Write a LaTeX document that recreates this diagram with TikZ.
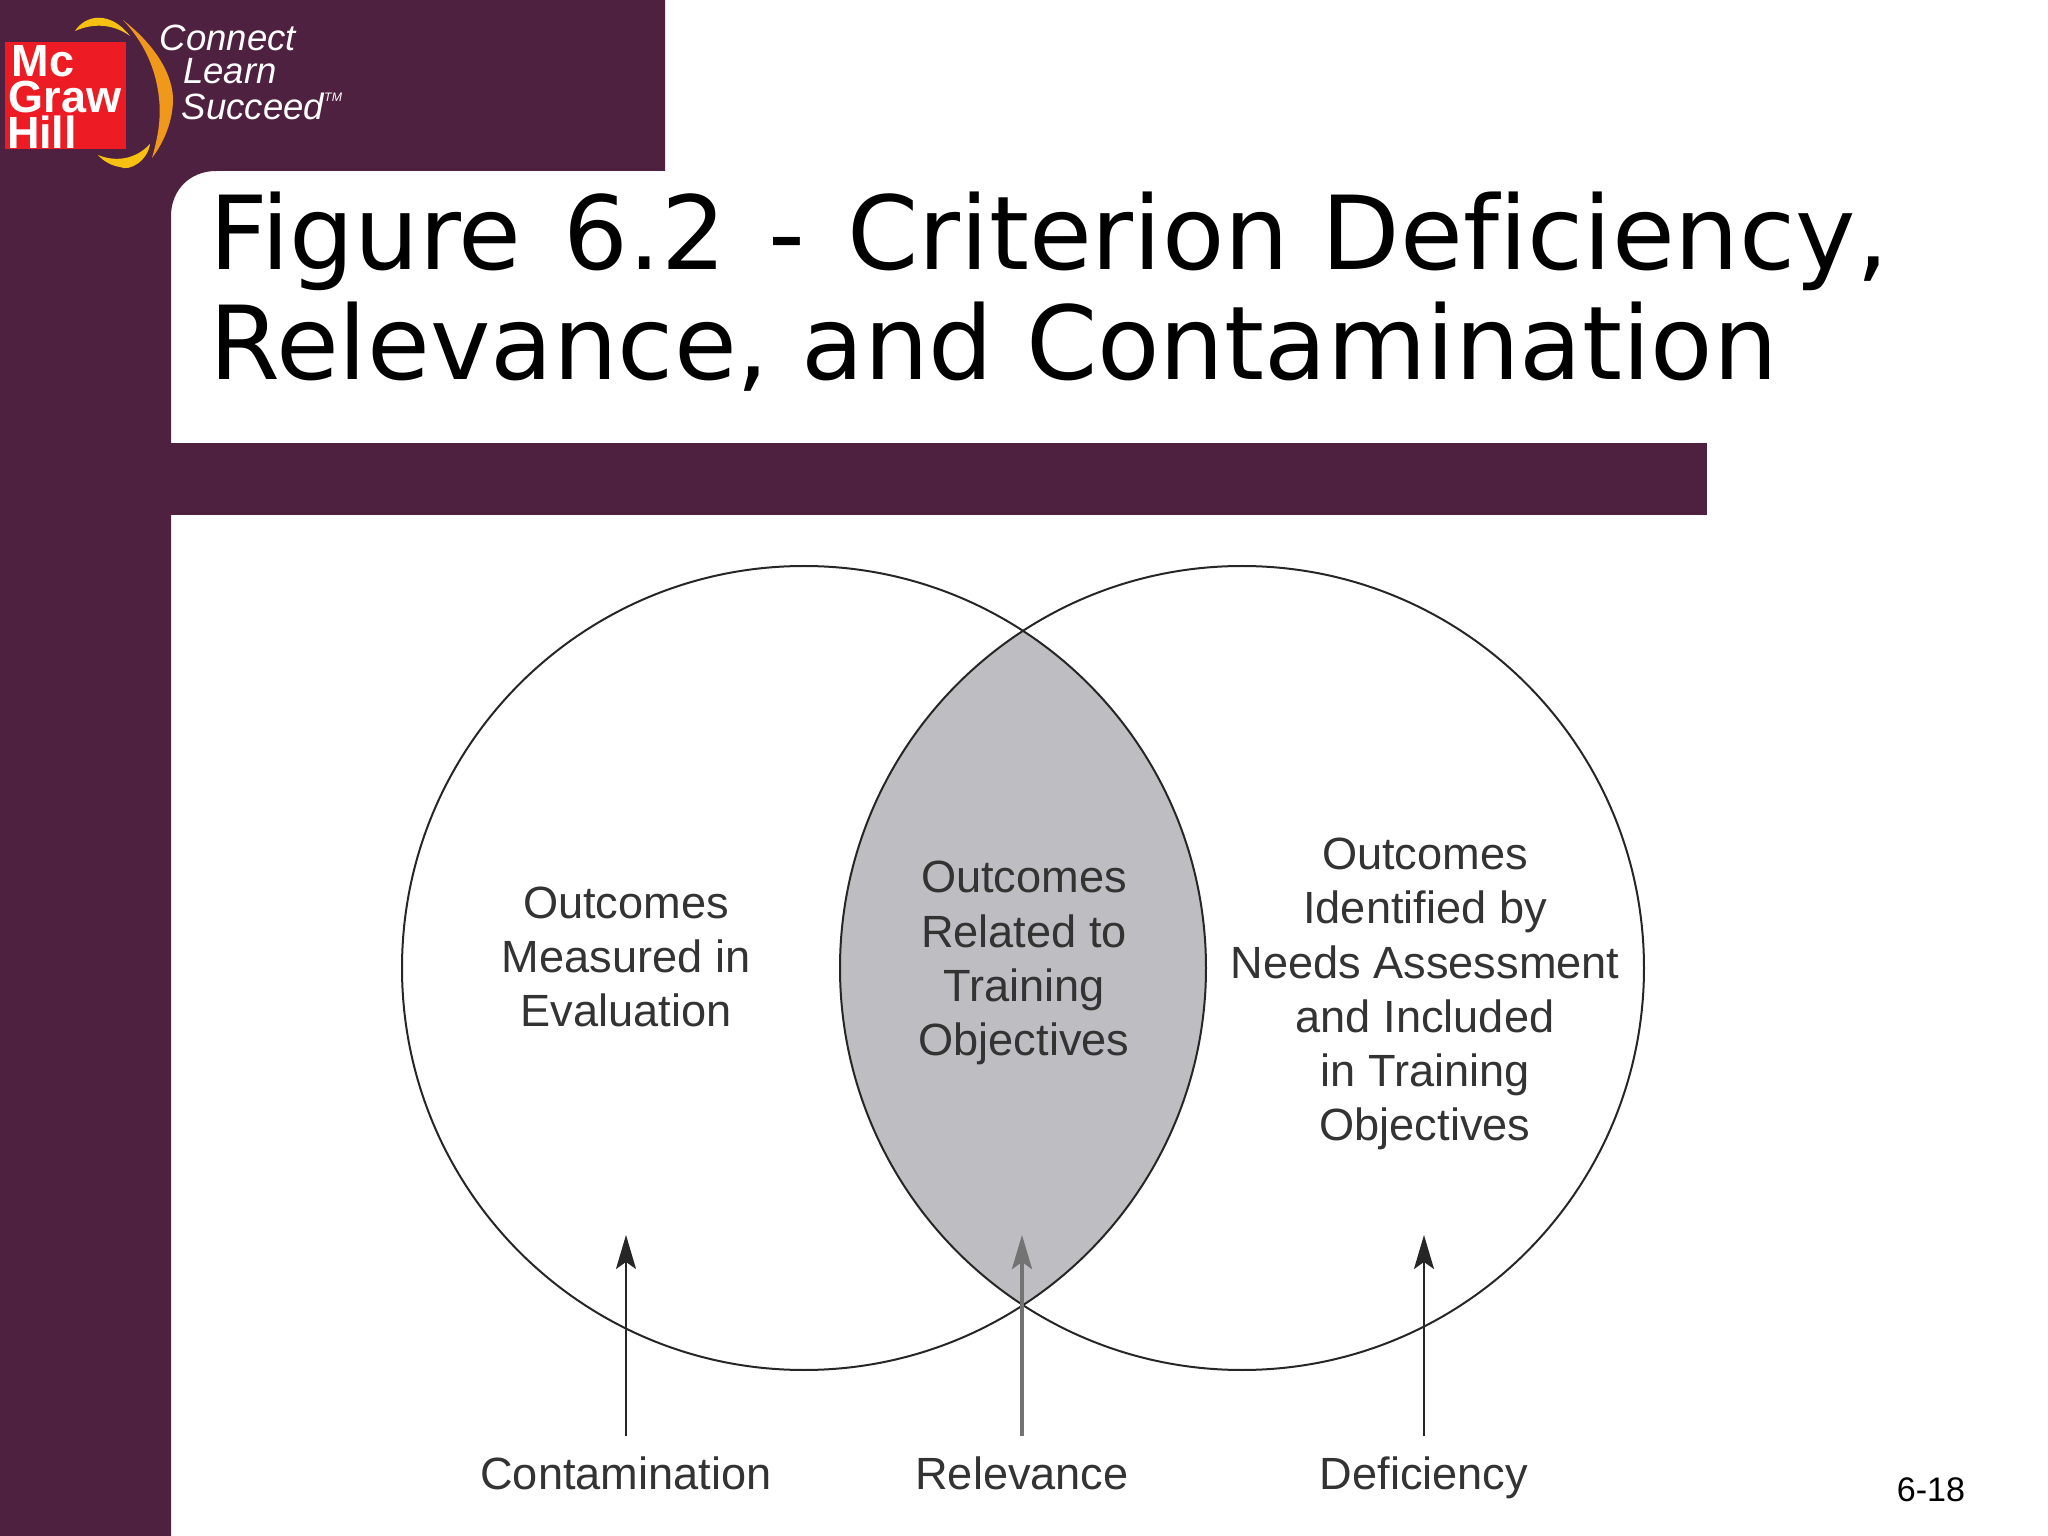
\documentclass[tikz,border=0pt]{standalone}
\usepackage{fontspec}
\setmainfont{Liberation Sans}
\newfontfamily\titlefont[Ligatures=NoCommon]{DejaVu Sans}
\usetikzlibrary{arrows.meta}
\definecolor{maroon}{HTML}{4F2140}
\definecolor{lensgray}{HTML}{BDBDC2}
\definecolor{logored}{HTML}{ED1C24}
\definecolor{swoosh}{HTML}{F0981C}
\definecolor{inkgray}{HTML}{333333}
\tikzset{
  venn/.style={draw=black!85,line width=0.2mm},
  vtext/.style={align=center,text=inkgray,font=\fontsize{12.85}{15.4}\selectfont},
  vlabel/.style={anchor=center,text=inkgray,font=\fontsize{12.85}{15.4}\selectfont,text height=9.4pt,text depth=0pt,minimum height=0.72cm,inner sep=0pt},
  varrow/.style={draw=black!85,line width=0.2mm,-{Stealth[length=0.34cm,width=0.2cm,inset=0.07cm]}},
  logotext/.style={anchor=center,text=white,inner sep=0pt,font=\fontsize{10.4}{10}\selectfont\itshape},
  mhtext/.style={anchor=center,text=white,inner sep=0pt,font=\fontsize{12.8}{12.5}\selectfont\bfseries}
}

\newcommand{\logoMH}[1]{
\begin{scope}[shift={(#1)}]
\fill [logored] (0.05,0.42) rectangle (1.26,1.49);
\node [mhtext] (mc) at (0.43,0.615) {Mc};
\node [mhtext] (graw) at (0.65,0.97) {Graw};
\node [mhtext] (hill) at (0.42,1.32) {Hill};
\fill [swoosh] (1.23,0.20) .. controls (1.55,0.45) and (1.74,0.75) .. (1.73,1.02) .. controls (1.72,1.25) and (1.62,1.45) .. (1.52,1.58) .. controls (1.60,1.30) and (1.62,1.10) .. (1.57,0.85) .. controls (1.52,0.60) and (1.40,0.38) .. (1.23,0.20) -- cycle;
\fill [swoosh!60!yellow] (0.75,0.31) .. controls (0.85,0.15) and (1.10,0.10) .. (1.30,0.36) .. controls (1.15,0.25) and (0.95,0.22) .. (0.75,0.31) -- cycle;
\fill [swoosh!60!yellow] (0.98,1.55) .. controls (1.15,1.62) and (1.35,1.60) .. (1.50,1.44) .. controls (1.48,1.60) and (1.30,1.72) .. (1.20,1.67) .. controls (1.12,1.66) and (1.03,1.61) .. (0.98,1.55) -- cycle;
\node [logotext] (connect) at (2.28,0.38) {Connect};
\node [logotext] (learn) at (2.30,0.71) {Learn};
\node [logotext] (succeed) at (2.62,1.06) {Succeed\raisebox{0.9ex}{\fontsize{3.5}{3.5}\selectfont TM}};
\end{scope}
}

\begin{document}
\begin{tikzpicture}[y=-1cm]
\useasboundingbox (0,0) rectangle (20.48,15.36);

\fill [maroon] (0,0) -- (6.65,0) -- (6.65,1.71) -- (2.16,1.71) .. controls (1.90,1.71) and (1.71,1.90) .. (1.71,2.16) -- (1.71,15.36) -- (0,15.36) -- cycle;
\fill [maroon] (1.71,4.43) rectangle (17.07,5.15);
\logoMH{0,0};

\node [anchor=base west, inner sep=0pt, align=left, font=\fontsize{29.05}{31.3}\selectfont\titlefont] (title) at (2.09,3.80) {Figure\hspace{2.8pt} 6.2\hspace{2.8pt} -\hspace{2.8pt} Criterion Deficiency,\\Relevance, and Contamination};

\path (8.04,9.68) coordinate (Q1);
\path (12.42,9.68) coordinate (Q2);

\begin{scope}
\clip (Q1) circle (4.02);
\fill [lensgray] (Q2) circle (4.02);
\end{scope}
\draw [venn] (Q1) circle (4.02);
\draw [venn] (Q2) circle (4.02);

\node [vtext] (measured) at (6.26,9.57) {Outcomes\\Measured in\\Evaluation};
\node [vtext] (related) at (10.24,9.63) {Outcomes\\Related to\\Training\\Objectives};
\node [vtext] (identified) at (14.25,9.94) {Outcomes\\Identified by\\Needs Assessment\\and Included\\in Training\\Objectives};

\node [vlabel] (contamination) at (6.26,14.73) {Contamination};
\node [vlabel] (relevance) at (10.22,14.73) {Relevance};
\node [vlabel] (deficiency) at (14.24,14.73) {Deficiency};

\path (6.26,12.35) coordinate (A1);
\path (10.22,12.35) coordinate (A2);
\path (14.24,12.35) coordinate (A3);

\draw [varrow] (contamination.north) -- (A1);
\draw [varrow,line width=0.4mm,draw=black!55] (relevance.north) -- (A2);
\draw [varrow] (deficiency.north) -- (A3);

\node [anchor=center, inner sep=0pt, font=\fontsize{9.7}{11}\selectfont] (pagenum) at (19.31,14.90) {6-18};

\end{tikzpicture}
\end{document}
